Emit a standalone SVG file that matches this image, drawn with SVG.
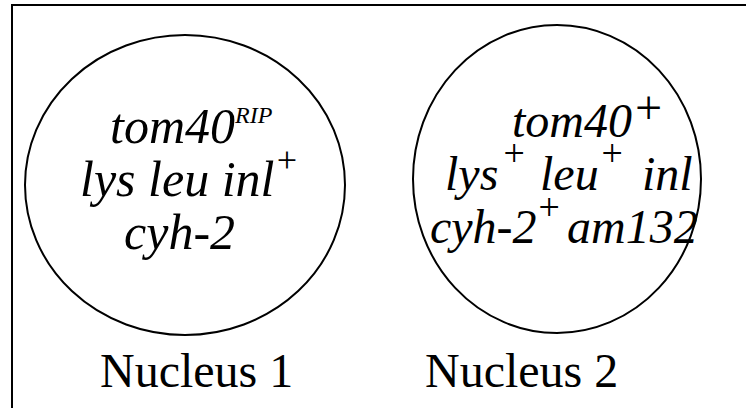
<svg xmlns="http://www.w3.org/2000/svg" width="746" height="408" viewBox="0 0 746 408">
<style>
.frame{fill:none;stroke:#000;stroke-width:2}
.nuc{fill:none;stroke:#000;stroke-width:2}
.g{font-family:"Liberation Serif","Times New Roman",serif;font-style:italic;fill:#000}
.lab{font-family:"Liberation Serif","Times New Roman",serif;font-size:48px;fill:#000}
</style>
<rect width="746" height="408" fill="#fff"/>
<path class="frame" d="M12,408 V5 H746"/>
<g id="nucleus1">
<ellipse class="nuc" cx="185" cy="185" rx="160" ry="150"/>
<text class="g" font-size="50" x="110" y="143">tom40<tspan font-size="24" dy="-20">RIP</tspan></text>
<text class="g" font-size="50" x="80" y="196">lys leu inl<tspan font-size="36" dy="-24">+</tspan></text>
<text class="g" font-size="50" x="124" y="249">cyh-2</text>
<text class="lab" x="100" y="387">Nucleus 1</text>
</g>
<g id="nucleus2">
<ellipse class="nuc" cx="557" cy="179" rx="144" ry="154"/>
<text class="g" font-size="48" x="512" y="137">tom40<tspan font-size="48" dy="-13">+</tspan></text>
<text class="g" font-size="48" x="445" y="190">lys</text>
<text class="g" font-size="38" x="501" y="166">+</text>
<text class="g" font-size="48" x="540" y="190">leu</text>
<text class="g" font-size="38" x="599" y="166">+</text>
<text class="g" font-size="48" x="642" y="190">inl</text>
<text class="g" font-size="48" x="430" y="243">cyh-2</text>
<text class="g" font-size="38" x="536" y="220">+</text>
<text class="g" font-size="48" x="567" y="243">am132</text>
<text class="lab" x="425" y="387">Nucleus 2</text>
</g>
<g id="connectors"/>
</svg>
